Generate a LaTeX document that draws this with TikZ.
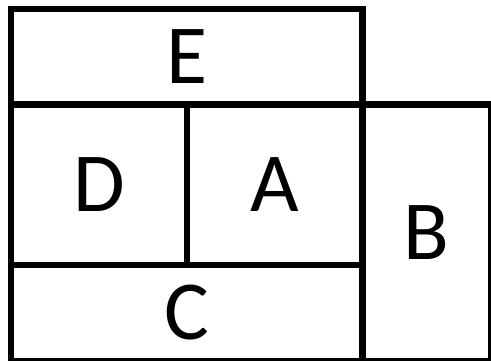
\documentclass[tikz,border=0pt]{standalone}
\usepackage{fontspec}
\setmainfont{Carlito}
\usetikzlibrary{positioning}
\begin{document}
\begin{tikzpicture}[x=1pt, y=-1pt,
        cell/.style={draw, line width=6.5pt, inner sep=0pt,
                     font=\fontsize{84}{84}\selectfont}
    ]
        \clip (0,0) rectangle (491,361);
        \node[cell, minimum width=351.5pt, minimum height=95.5pt] (E) at (186.75, 56.75) {E};
        \node[cell, minimum width=176pt, minimum height=160.5pt] (D) at (99, 184.75) {D};
        \node[cell, minimum width=175.5pt, minimum height=160.5pt] (A) at (274.75, 184.75) {A};
        \node[cell, minimum width=351.5pt, minimum height=96pt] (C) at (186.75, 313) {C};
        \node[cell, minimum width=128.5pt, minimum height=256.5pt] (B) at (426.75, 232.75) {B};
    \end{tikzpicture}
\end{document}
